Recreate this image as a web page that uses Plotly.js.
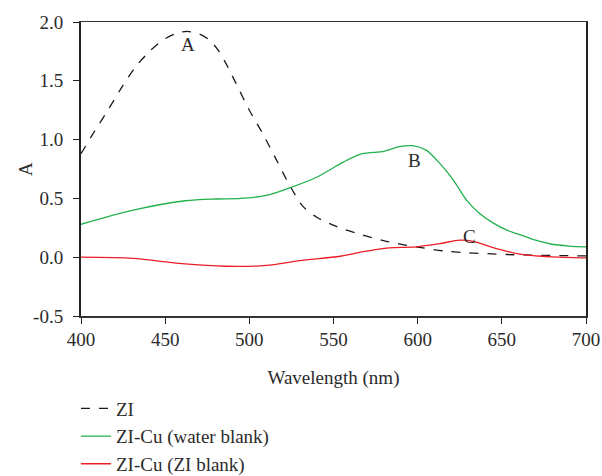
<!DOCTYPE html>
<html><head><meta charset="utf-8">
<script src="https://cdn.plot.ly/plotly-3.0.1.min.js"></script>
<style>body{margin:0;background:#fff}#chart{width:602px;height:476px}</style>
</head><body><div id="chart"></div>
<script>
// ZI (dashed)
const ziX = [400,408,416,424,432,440,448,456,463,470,476,481,486,492,500,508,516,524,532,540,552,567,583,599,618,653,700];
const ziY = [0.88,1.07,1.25,1.44,1.61,1.74,1.84,1.90,1.92,1.90,1.85,1.77,1.65,1.48,1.25,1.05,0.83,0.61,0.43,0.34,0.26,0.19,0.13,0.088,0.05,0.023,0.011];
// ZI-Cu (water blank)
const wbX = [400,431,462,480,495,510,524,540,556,567,580,589,597,605,613,621,629,637,645,653,661,670,680,690,700];
const wbY = [0.28,0.40,0.48,0.495,0.50,0.525,0.59,0.68,0.81,0.88,0.90,0.94,0.948,0.91,0.80,0.66,0.485,0.37,0.29,0.23,0.19,0.145,0.11,0.095,0.088];
// ZI-Cu (ZI blank)
const zbX = [400,431,460,486,510,530,554,567,583,599,613,625,633,643,653,665,680,700];
const zbY = [0.0,-0.01,-0.055,-0.077,-0.07,-0.03,0.008,0.045,0.08,0.088,0.115,0.145,0.135,0.09,0.05,0.017,0.003,-0.006];
const names = ['ZI','ZI-Cu (water blank)','ZI-Cu (ZI blank)'];
const labels = ['A','B','C'];
const labelX = [463.5,598,631];
const labelY = [1.81,0.82,0.18];
const xTicks = [400,450,500,550,600,650,700];
const yTicks = [-0.5,0,0.5,1,1.5,2];
const yTickText = ['-0.5','0.0','0.5','1.0','1.5','2.0'];

const font = {family:'"Liberation Serif", "DejaVu Serif", serif', size:19, color:'#2b2b2b'};
const traces = [
 {x:ziX,y:ziY,name:names[0],mode:'lines',line:{color:'#1a1a1a',width:1.3,dash:'dash',shape:'spline',smoothing:0.8}},
 {x:wbX,y:wbY,name:names[1],mode:'lines',line:{color:'#22b14c',width:1.3,shape:'spline',smoothing:0.8}},
 {x:zbX,y:zbY,name:names[2],mode:'lines',line:{color:'#ee1c25',width:1.3,shape:'spline',smoothing:0.8}}
];
const annotations = labels.map((t,i)=>({x:labelX[i],y:labelY[i],text:t,showarrow:false,font:font,xref:'x',yref:'y'}));
const layout = {
 width:602,height:476,
 margin:{l:81,r:16,t:22,b:160,autoexpand:false},
 paper_bgcolor:'#fff',plot_bgcolor:'#fff',
 font:font,
 showlegend:true,
 legend:{x:-0.01,xanchor:'left',y:-0.25,yanchor:'top',font:font,tracegroupgap:0,itemwidth:30,bgcolor:'rgba(0,0,0,0)'},
 xaxis:{range:[400,700],tickvals:xTicks,ticks:'outside',ticklen:6,tickcolor:'#222',showgrid:false,zeroline:false,
   showline:true,linecolor:'#333',linewidth:1.5,mirror:true,
   title:{text:'Wavelength (nm)',font:font}},
 yaxis:{range:[-0.5,2.0],tickvals:yTicks,ticktext:yTickText,ticks:'outside',ticklen:6,tickcolor:'#222',showgrid:false,zeroline:false,
   showline:true,linecolor:'#222',linewidth:2,mirror:true,ticklabelstandoff:6,
   title:{text:'A',font:font}},
 annotations:annotations
};
Plotly.newPlot('chart',traces,layout,{displayModeBar:false,staticPlot:true});
</script></body></html>
